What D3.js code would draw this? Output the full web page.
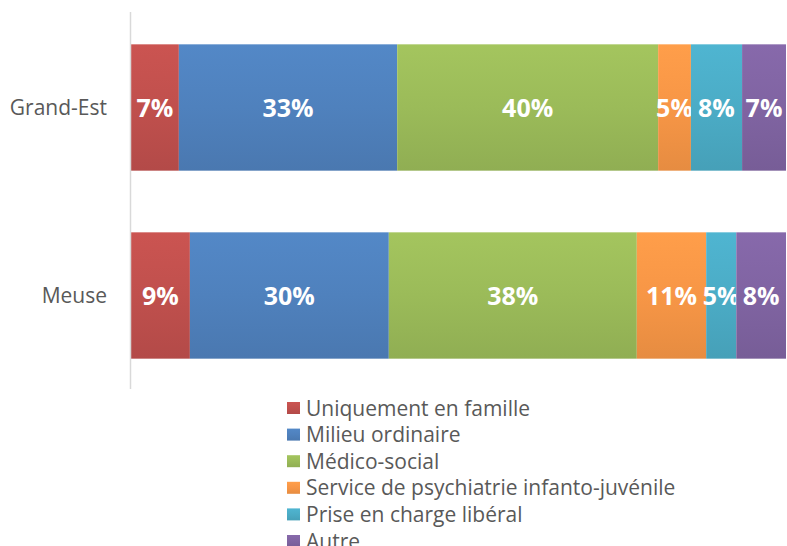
<!DOCTYPE html>
<html>
<head>
<meta charset="utf-8">
<script src="https://cdn.jsdelivr.net/npm/d3@7"></script>
<style>
  body { margin: 0; background: #fff; }
  svg text { font-family: "Open Sans", Lato, sans-serif; }
</style>
</head>
<body>
<svg id="chart" width="787" height="546"></svg>
<script>
// categories and series (percent)
var regions = ["Grand-Est", "Meuse"];
var series = ["Uniquement en famille", "Milieu ordinaire", "Médico-social",
              "Service de psychiatrie infanto-juvénile", "Prise en charge libéral", "Autre"];
var grandEst = [7.3, 33.3, 39.8, 5.0, 7.8, 6.7];
var meuse    = [9.0, 30.4, 37.9, 10.6, 4.6, 7.6];
var colors = ["#c0504d", "#4f81bd", "#9bbb59", "#f79646", "#4bacc6", "#8064a2"];

var width = 787, height = 546;
var margins = { top: 13.5, left: 131, right: 1 };
var plotBottom = 389.5;

var svg = d3.select("#chart");

// build rows for the stack
var rows = regions.map(function(r, i) {
    var vals = i == 0 ? grandEst : meuse;
    var row = { region: r };
    series.forEach(function(s, j) { row[s] = vals[j]; });
    return row;
});

var stack = d3.stack().keys(series).offset(d3.stackOffsetExpand);
var layers = stack(rows);

var x = d3.scaleLinear()
    .domain([0, 1])
    .range([margins.left, width - margins.right]);

var y = d3.scaleBand()
    .domain(regions)
    .range([margins.top, plotBottom])
    .paddingInner(0.328)
    .paddingOuter(0.164);

// vertical gradients, lighter on top
var defs = svg.append("defs");
colors.forEach(function(c, i) {
    var g = defs.append("linearGradient")
        .attr("id", "grad" + i)
        .attr("x1", 0).attr("y1", 0).attr("x2", 0).attr("y2", 1);
    g.append("stop").attr("offset", "0%").attr("stop-color", d3.color(c).brighter(0.15));
    g.append("stop").attr("offset", "50%").attr("stop-color", c);
    g.append("stop").attr("offset", "100%").attr("stop-color", d3.color(c).darker(0.2));
});

// bars
var layer = svg.selectAll("g.layer")
    .data(layers)
    .enter()
    .append("g")
    .attr("class", "layer")
    .attr("fill", function(d, i) { return "url(#grad" + i + ")"; });

layer.selectAll("rect")
    .data(function(d) { return d; })
    .enter()
    .append("rect")
    .attr("x", function(d) { return x(d[0]); })
    .attr("y", function(d) { return y(d.data.region); })
    .attr("width", function(d) { return x(d[1]) - x(d[0]); })
    .attr("height", y.bandwidth());

// value labels
layer.selectAll("text")
    .data(function(d) { return d.map(function(p) { p.key = d.key; return p; }); })
    .enter()
    .append("text")
    .attr("x", function(d) { return (x(d[0]) + x(d[1])) / 2; })
    .attr("y", function(d) { return y(d.data.region) + y.bandwidth() / 2; })
    .attr("dy", "0.36em")
    .attr("text-anchor", "middle")
    .style("fill", "#fff")
    .style("font-weight", "bold")
    .style("font-size", "25px")
    .text(function(d) { return Math.round(d.data[d.key]) + "%"; });

// category axis line
svg.append("line")
    .attr("x1", margins.left - 0.5).attr("x2", margins.left - 0.5)
    .attr("y1", 12).attr("y2", 389)
    .style("stroke", "#d9d9d9")
    .style("stroke-width", 1.5);

// category labels
svg.selectAll("text.cat")
    .data(regions)
    .enter()
    .append("text")
    .attr("class", "cat")
    .attr("x", 107)
    .attr("y", function(d) { return y(d) + y.bandwidth() / 2; })
    .attr("dy", "0.36em")
    .attr("text-anchor", "end")
    .style("fill", "#595959")
    .style("font-size", "21px")
    .text(function(d) { return d; });

// legend
var legend = svg.selectAll("g.legend")
    .data(series)
    .enter()
    .append("g")
    .attr("class", "legend")
    .attr("transform", function(d, i) { return "translate(287," + (408 + i * 26.6) + ")"; });

legend.append("rect")
    .attr("x", 0).attr("y", -6)
    .attr("width", 13).attr("height", 12)
    .attr("fill", function(d, i) { return "url(#grad" + i + ")"; });

legend.append("text")
    .attr("x", 19)
    .attr("dy", "0.36em")
    .style("fill", "#595959")
    .style("font-size", "21px")
    .text(function(d) { return d; });
</script>
</body>
</html>
